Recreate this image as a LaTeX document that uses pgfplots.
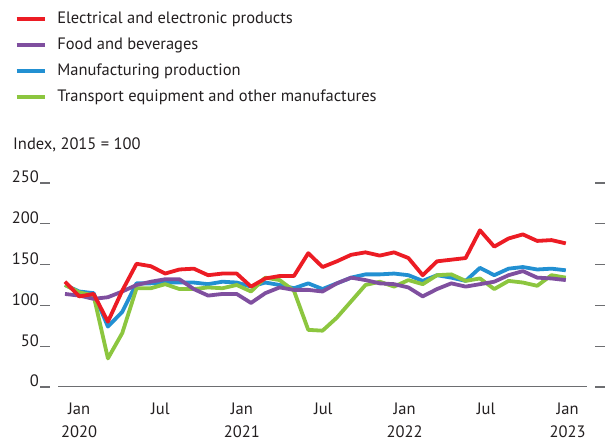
\documentclass[border=0pt]{standalone}
\usepackage{pgfplots}
\usepackage{pgfplotstable}
\pgfplotsset{compat=1.18}
\usepackage{fontspec}
\setmainfont{PT Sans}

\definecolor{cred}{HTML}{EC1C24}
\definecolor{cpurple}{HTML}{7F4F9F}
\definecolor{cblue}{HTML}{2290D2}
\definecolor{cgreen}{HTML}{8CC63F}
\definecolor{ctext}{HTML}{231F20}
\definecolor{ctick}{HTML}{6D6E71}

% month index 0 = Jan 2020
\pgfplotstableread{
i  elec food manu trans
0  129  114  125  125
1  111  112  117  116
2  114  108  115  112
3  80   110  74   35
4  118  117  92   66
5  151  125  127  121
6  148  129  127  121
7  139  132  128  126
8  144  132  128  120
9  145  120  128  120
10 137  112  126  122
11 139  114  129  121
12 139  114  128  125
13 123  103  123  117
14 133  115  128  134
15 136  122  125  131
16 136  119  121  118
17 164  119  127  70
18 147  117  120  69
19 154  127  127  85
20 162  134  134  105
21 165  131  138  125
22 161  127  138  129
23 165  126  139  123
24 158  122  137  131
25 137  111  130  126
26 154  120  137  137
27 156  127  134  138
28 158  123  130  130
29 192  126  146  133
30 172  129  137  120
31 182  137  145  130
32 187  142  147  128
33 179  134  144  124
34 180  133  145  137
35 176  131  143  134
}\datatable

\begin{document}
\begin{tikzpicture}[font=\fontsize{16.5bp}{23bp}\selectfont, text=ctext]
\begin{axis}[
  scale only axis,
  width=565bp, height=204bp,
  xmin=-1.747, xmax=37.74,
  ymin=0, ymax=250,
  ytick={0,50,...,250},
  xtick={0.98,6.67,12.36,18.05,23.74,29.43,35.12},
  xticklabels={Jan\\2020,Jul,Jan\\2021,Jul,Jan\\2022,Jul,Jan\\2023},
  xticklabel style={align=center, anchor=north, inner sep=0pt, yshift=-16bp},
  yticklabel style={anchor=base east, inner sep=0pt, xshift=-1bp},
  /pgf/number format/assume math mode=true,
  axis line style={draw=none},
  xtick style={draw=none},
  ytick style={ctick, line width=1.3bp},
  ytick pos=both, yticklabel pos=left,
  tick align=inside,
  major tick length=10bp,
  every axis plot/.append style={line width=3.8bp, line join=round},
  legend image code/.code={\draw[#1, line width=3.3bp] (0bp,0bp) -- (28bp,0bp);},
  legend cell align=left,
  legend style={draw=none, fill=none, inner sep=0pt, outer sep=0pt,
    at={(axis description cs:-0.0442,1.845)}, anchor=north west,
    row sep=9.5bp,
    nodes={inner sep=0pt, text height=12.5bp, text depth=4bp},
    /tikz/every odd column/.append style={column sep=11bp}},
]
\addlegendimage{cred}
\addlegendentry{Electrical and electronic products}
\addlegendimage{cpurple}
\addlegendentry{Food and beverages}
\addlegendimage{cblue}
\addlegendentry{Manufacturing production}
\addlegendimage{cgreen}
\addlegendentry{Transport equipment and other manufactures}

\draw[ctick, line width=1.4bp] (axis cs:-0.489,0) -- (axis cs:36.48,0);

\addplot[cblue, forget plot] table[x=i, y=manu] {\datatable};
\addplot[cgreen, forget plot] table[x=i, y=trans] {\datatable};
\addplot[cpurple, forget plot] table[x=i, y=food] {\datatable};
\addplot[cred, forget plot] table[x=i, y=elec] {\datatable};

\coordinate (lab) at (axis description cs:-0.0478,1.162);
\coordinate (bl) at (axis description cs:-0.0708,-0.2745);
\coordinate (tr) at (axis description cs:1.0,1.897);
\end{axis}
\node[anchor=base west, inner sep=0pt] at (lab) {Index, 2015 = 100};
\pgfresetboundingbox
\path[use as bounding box] (bl) rectangle (tr);
\end{tikzpicture}
\end{document}
